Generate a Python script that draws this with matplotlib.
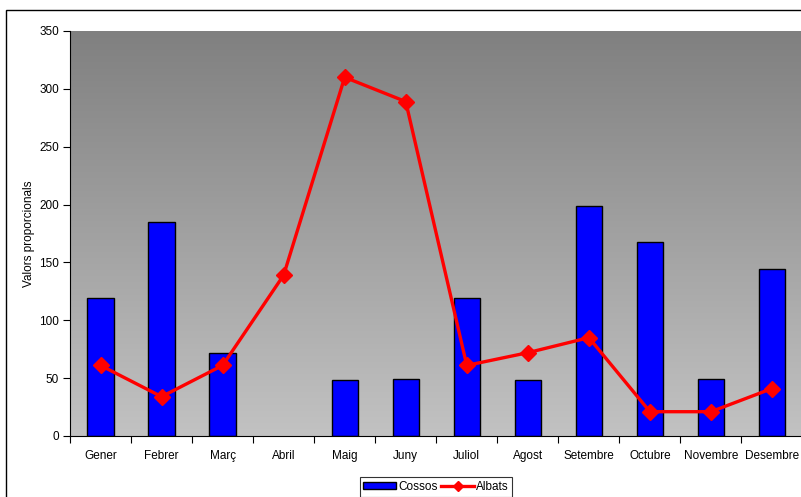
import matplotlib
matplotlib.use("Agg")
import matplotlib.pyplot as plt
import numpy as np
from matplotlib.patches import Rectangle, Patch
from matplotlib.lines import Line2D

plt.rcParams['font.family'] = ['Liberation Sans', 'DejaVu Sans']

months = ["Gener", "Febrer", "Març", "Abril", "Maig", "Juny", "Juliol",
          "Agost", "Setembre", "Octubre", "Novembre", "Desembre"]
cossos = [119, 185, 72, 0, 48, 49, 119, 48, 199, 168, 49, 144]
albats = [61, 34, 61, 139, 310, 289, 61, 72, 85, 21, 21, 41]
yticks = [0, 50, 100, 150, 200, 250, 300, 350]

W, H = 801, 497
fig = plt.figure(figsize=(W / 100, H / 100), dpi=100)
fig.patch.set_facecolor('white')
ax = fig.add_axes([70 / W, (H - 436) / H, 732.5 / W, 405 / H])

x = np.arange(len(months))
ax.set_xlim(-0.5, len(months) - 0.5)
ax.set_ylim(0, 350)

# gradient background
grad = np.linspace(0, 1, 256).reshape(-1, 1)
top = np.array([0x80, 0x80, 0x80]) / 255
bot = np.array([0xc2, 0xc2, 0xc2]) / 255
img = top + (bot - top) * grad[:, :, None] * np.ones((1, 1, 3))
ax.imshow(img, extent=[-0.5, len(months) - 0.5, 0, 350], aspect='auto',
          origin='upper', zorder=0)

cv = np.array(cossos, dtype=float)
mask = cv > 0
ax.bar(x[mask], cv[mask], width=0.43, color='#0000ff', edgecolor='black',
       linewidth=1.0, zorder=2)
ax.plot(x, albats, color='#ff0000', linewidth=2.4, marker='D',
        markersize=8, zorder=3)

ax.set_yticks(yticks)
ax.set_yticklabels([str(v) for v in yticks], fontsize=8.5)
ax.set_xticks(x)
ax.set_xticklabels(months, fontsize=8.5)
ax.tick_params(axis='x', length=0, pad=10)
ax.set_xticks(np.arange(-0.5, len(months)), minor=True)
ax.tick_params(axis='x', which='minor', length=5, direction='out', width=0.8)
ax.tick_params(axis='y', length=5, direction='out', width=0.8, pad=3)

for s in ['top', 'right']:
    ax.spines[s].set_visible(False)
for s in ['left', 'bottom']:
    ax.spines[s].set_linewidth(0.8)

ax.set_ylabel('Valors proporcionals', fontsize=8.5, labelpad=3)

handles = [Patch(facecolor='#0000ff', edgecolor='black', linewidth=1.0),
           Line2D([], [], color='#ff0000', linewidth=2.4, marker='D',
                  markersize=5)]
leg = fig.legend(handles, ['Cossos', 'Albats'], loc='center',
                 bbox_to_anchor=(436 / W, 1 - 487 / H),
                 ncol=2, fontsize=8.5, frameon=True, fancybox=False,
                 edgecolor='black', handlelength=2.8, handleheight=0.5,
                 columnspacing=0.3, handletextpad=0.15, borderpad=0.3,
                 borderaxespad=0.2)
leg.get_frame().set_linewidth(0.8)

fig.patches.append(Rectangle((6 / W, -0.1), 1.0, 1 - 10 / H + 0.1,
                             transform=fig.transFigure, fill=False,
                             edgecolor='black', linewidth=1.0))

fig.savefig('out.png', dpi=100)
